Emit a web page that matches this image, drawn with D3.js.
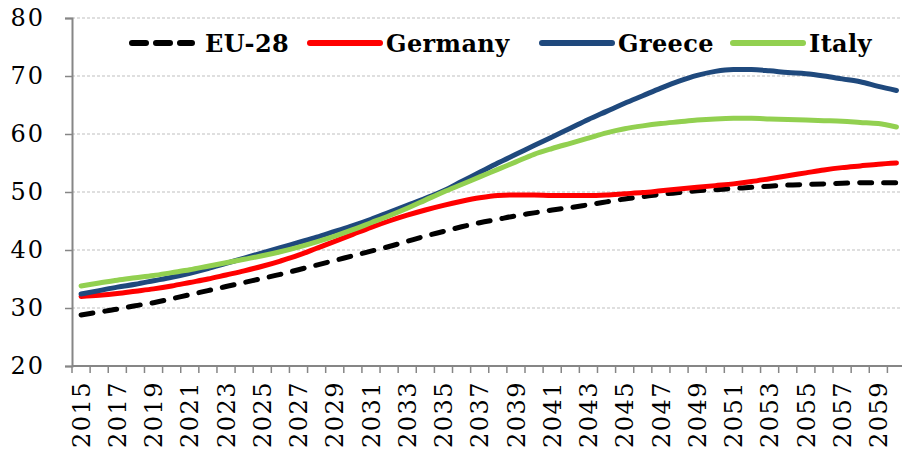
<!DOCTYPE html>
<html>
<head>
<meta charset="utf-8">
<script src="https://cdn.jsdelivr.net/npm/d3@7"></script>
<style>
  body { margin: 0; background: #fff; }
  svg { display: block; }
</style>
</head>
<body>
<svg id="chart" width="902" height="451"></svg>
<script>
// years on the x axis
var years = d3.range(2015, 2061);
var yTicks = [20, 30, 40, 50, 60, 70, 80];

var eu28 = [28.8, 29.3, 29.8, 30.4, 30.9, 31.6, 32.3, 33.0, 33.7, 34.4, 35.1, 35.8, 36.6, 37.4, 38.2, 39.0,
  39.8, 40.6, 41.5, 42.4, 43.2, 44.0, 44.7, 45.3, 45.9, 46.4, 46.9, 47.3, 47.8, 48.3, 48.8, 49.2,
  49.6, 49.9, 50.2, 50.4, 50.6, 50.8, 51.0, 51.2, 51.3, 51.4, 51.5, 51.6, 51.6, 51.6];
var germany = [32.0, 32.2, 32.5, 32.9, 33.3, 33.8, 34.4, 35.0, 35.7, 36.4, 37.2, 38.1, 39.1, 40.3, 41.5, 42.7,
  43.9, 45.0, 46.0, 46.9, 47.7, 48.4, 49.0, 49.4, 49.5, 49.5, 49.4, 49.4, 49.4, 49.5, 49.7, 49.9,
  50.2, 50.5, 50.8, 51.1, 51.4, 51.8, 52.3, 52.8, 53.3, 53.8, 54.2, 54.5, 54.8, 55.0];
var greece = [32.4, 33.0, 33.6, 34.1, 34.7, 35.3, 36.0, 36.8, 37.7, 38.6, 39.5, 40.4, 41.3, 42.2, 43.2, 44.2,
  45.3, 46.5, 47.7, 48.9, 50.2, 51.8, 53.4, 55.0, 56.5, 58.0, 59.5, 61.0, 62.5, 63.9, 65.3, 66.6,
  67.9, 69.1, 70.1, 70.8, 71.1, 71.1, 70.9, 70.6, 70.4, 70.0, 69.5, 69.0, 68.2, 67.5];
var italy = [33.8, 34.3, 34.8, 35.2, 35.6, 36.1, 36.6, 37.2, 37.8, 38.4, 39.0, 39.7, 40.5, 41.4, 42.4, 43.5,
  44.7, 45.9, 47.2, 48.6, 50.0, 51.3, 52.6, 53.9, 55.2, 56.5, 57.5, 58.4, 59.3, 60.2, 60.9, 61.4,
  61.8, 62.1, 62.4, 62.6, 62.7, 62.7, 62.6, 62.5, 62.4, 62.3, 62.2, 62.0, 61.8, 61.2];

var seriesNames = ["EU-28", "Germany", "Greece", "Italy"];
var seriesValues = [eu28, germany, greece, italy];
var colors = ["#000000", "#ff0000", "#1f497d", "#92d050"];
var dashes = ["12,12", null, null, null];
var legendX = [130, 308, 540, 731];

var svg = d3.select("#chart");
var plotLeft = 72, plotTop = 18, plotBottom = 366;
var band = 18.12;

var x = d3.scaleBand().domain(years).range([plotLeft, plotLeft + band * years.length]);
var y = d3.scaleLinear().domain([20, 80]).range([plotBottom, plotTop]);

var serif = "'DejaVu Serif', 'Liberation Serif', serif";

// gridlines
svg.append("g").selectAll("line")
  .data(yTicks.filter(function(d) { return d > 20; }))
  .enter().append("line")
  .attr("x1", plotLeft).attr("x2", 902)
  .attr("y1", function(d) { return y(d); })
  .attr("y2", function(d) { return y(d); })
  .attr("stroke", "#bfbfbf")
  .attr("stroke-dasharray", "3,2")
  .attr("stroke-width", 1);

// y axis
var yAxis = svg.append("g")
  .attr("transform", "translate(" + plotLeft + ",0)")
  .call(d3.axisLeft(y).tickValues(yTicks).tickSize(7).tickPadding(20));
yAxis.select(".domain").attr("stroke", "#868686").attr("stroke-width", 2);
yAxis.selectAll(".tick line").attr("stroke", "#868686").attr("stroke-width", 1.5);
yAxis.selectAll("text")
  .attr("font-family", serif)
  .attr("font-size", 24)
  .attr("letter-spacing", 2)
  .attr("fill", "#000");

// x axis, ticks between categories
var xAxis = svg.append("g")
  .attr("transform", "translate(0," + plotBottom + ")");
xAxis.append("line")
  .attr("x1", plotLeft).attr("x2", 902)
  .attr("y1", 0).attr("y2", 0)
  .attr("stroke", "#868686").attr("stroke-width", 2);
xAxis.selectAll(".tk")
  .data(years)
  .enter().append("line")
  .attr("class", "tk")
  .attr("x1", function(d) { return x(d); })
  .attr("x2", function(d) { return x(d); })
  .attr("y1", 0).attr("y2", 7)
  .attr("stroke", "#868686").attr("stroke-width", 1.5);
xAxis.selectAll(".lbl")
  .data(years.filter(function(d) { return (d - 2015) % 2 === 0; }))
  .enter().append("text")
  .attr("class", "lbl")
  .attr("transform", function(d) {
    return "translate(" + (x(d) + x.bandwidth() / 2) + ",15) rotate(-90)";
  })
  .attr("text-anchor", "end")
  .attr("dy", "0.36em")
  .attr("font-family", serif)
  .attr("font-size", 24)
  .attr("letter-spacing", 1.5)
  .attr("fill", "#000")
  .text(function(d) { return d; });

// lines
var line = d3.line()
  .x(function(d, i) { return x(years[i]) + x.bandwidth() / 2; })
  .y(function(d) { return y(d); })
  .curve(d3.curveMonotoneX);

svg.append("g").selectAll("path")
  .data(seriesValues)
  .enter().append("path")
  .attr("d", line)
  .attr("fill", "none")
  .attr("stroke", function(d, i) { return colors[i]; })
  .attr("stroke-width", 5)
  .attr("stroke-linecap", "round")
  .attr("stroke-linejoin", "round")
  .attr("stroke-dasharray", function(d, i) { return dashes[i]; });

// legend
var legend = svg.append("g").selectAll("g")
  .data(seriesNames)
  .enter().append("g")
  .attr("transform", function(d, i) { return "translate(" + legendX[i] + ",43)"; });
legend.append("line")
  .attr("x1", 2)
  .attr("x2", function(d, i) { return i === 0 ? 62 : 72; })
  .attr("stroke", function(d, i) { return colors[i]; })
  .attr("stroke-width", 6)
  .attr("stroke-linecap", "round")
  .attr("stroke-dasharray", function(d, i) { return dashes[i] ? "14,10" : null; });
legend.append("text")
  .attr("x", function(d, i) { return i === 0 ? 75 : 78; })
  .attr("dy", "0.36em")
  .attr("font-family", serif)
  .attr("font-weight", "bold")
  .attr("font-size", 24)
  .attr("letter-spacing", 0.4)
  .attr("fill", "#000")
  .text(function(d) { return d; });
</script>
</body>
</html>
